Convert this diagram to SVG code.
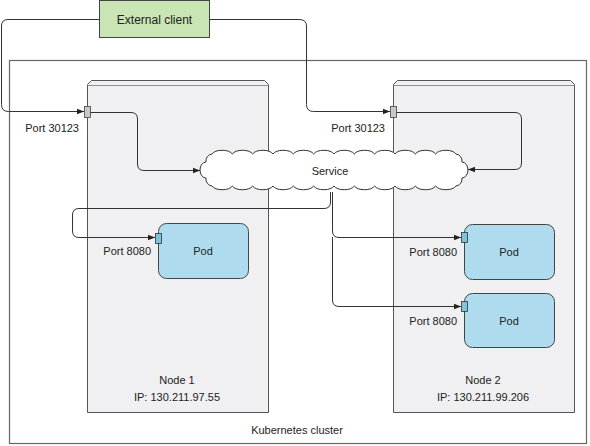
<svg xmlns="http://www.w3.org/2000/svg" width="590" height="446" viewBox="0 0 590 446">
<defs>
<marker id="ah" viewBox="0 0 10 10" refX="10" refY="5" markerWidth="7" markerHeight="7" markerUnits="userSpaceOnUse" orient="auto">
<path d="M0,1 L10,5 L0,9 Z" fill="#222"/>
</marker>
<style>
text{font-family:"Liberation Sans",Arial,sans-serif;font-size:11px;fill:#222}
.node{fill:#f0f0f2;stroke:#555;stroke-width:1}
.pod{fill:#aedcee;stroke:#444;stroke-width:1}
.pport{fill:#7cc4da;stroke:#333;stroke-width:0.8}
.nport{fill:#c8c8c8;stroke:#444;stroke-width:0.8}
.c{fill:none;stroke:#333;stroke-width:1}
.m{text-anchor:middle}
.e{text-anchor:end}
</style>
</defs>
<rect width="590" height="446" fill="#fff"/>
<g id="cluster">
<rect x="9.5" y="60.5" width="577" height="383" fill="#fff" stroke="#666" stroke-width="1.2"/>
<text class="m" x="297" y="434">Kubernetes cluster</text>
</g>
<g id="node1">
<path class="node" d="M87.5 412.5 V84.5 L91.5 80.5 H264.5 L268.5 84.5 V412.5 Z"/>
<line x1="87.5" y1="85.5" x2="268.5" y2="85.5" stroke="#777" stroke-width="0.8"/>
<text class="m" x="177" y="384">Node 1</text>
<text class="m" x="177" y="401">IP: 130.211.97.55</text>
</g>
<g id="node2">
<path class="node" d="M393.5 412.5 V84.5 L397.5 80.5 H570.5 L574.5 84.5 V412.5 Z"/>
<line x1="393.5" y1="85.5" x2="574.5" y2="85.5" stroke="#777" stroke-width="0.8"/>
<text class="m" x="483" y="384">Node 2</text>
<text class="m" x="483" y="401">IP: 130.211.99.206</text>
</g>
<g id="external-client">
<rect x="99.5" y="0.5" width="110" height="37" fill="#c9e4b5" stroke="#444" stroke-width="1"/>
<text class="m" x="154.5" y="24" style="font-size:12px">External client</text>
</g>
<g id="port1-30123">
<rect class="nport" x="84.5" y="106.5" width="6" height="11"/>
<text class="e" x="79" y="132">Port 30123</text>
</g>
<g id="port2-30123">
<rect class="nport" x="390.5" y="106.5" width="6" height="11"/>
<text class="e" x="385" y="132">Port 30123</text>
</g>
<g id="pod1">
<rect class="pod" x="158.5" y="223.5" width="90" height="55" rx="8"/>
<rect class="pport" x="155.5" y="233.5" width="6" height="10"/>
<text class="m" x="203" y="255">Pod</text>
<text class="e" x="151" y="255">Port 8080</text>
</g>
<g id="pod2">
<rect class="pod" x="464.5" y="224.5" width="90" height="55" rx="8"/>
<rect class="pport" x="461.5" y="232.5" width="6" height="10"/>
<text class="m" x="509" y="256">Pod</text>
<text class="e" x="457" y="256">Port 8080</text>
</g>
<g id="pod3">
<rect class="pod" x="464.5" y="293.5" width="90" height="54" rx="8"/>
<rect class="pport" x="461.5" y="301.5" width="6" height="10"/>
<text class="m" x="509" y="325">Pod</text>
<text class="e" x="457" y="325">Port 8080</text>
</g>
<g id="service">
<path fill="#fff" stroke="#333" stroke-width="1" d="M206 162 a7 7 0 0 1 6 -8 a11 6 0 0 1 20.33 0 a11 6 0 0 1 20.33 0 a11 6 0 0 1 20.33 0 a11 6 0 0 1 20.33 0 a11 6 0 0 1 20.33 0 a11 6 0 0 1 20.33 0 a11 6 0 0 1 20.33 0 a11 6 0 0 1 20.33 0 a11 6 0 0 1 20.33 0 a11 6 0 0 1 20.33 0 a11 6 0 0 1 20.33 0 a11 6 0 0 1 20.33 0 a7 7 0 0 1 6 8 a6 8 0 0 1 0 16 a7 7 0 0 1 -6 8 a11 6 0 0 1 -20.33 0 a11 6 0 0 1 -20.33 0 a11 6 0 0 1 -20.33 0 a11 6 0 0 1 -20.33 0 a11 6 0 0 1 -20.33 0 a11 6 0 0 1 -20.33 0 a11 6 0 0 1 -20.33 0 a11 6 0 0 1 -20.33 0 a11 6 0 0 1 -20.33 0 a11 6 0 0 1 -20.33 0 a11 6 0 0 1 -20.33 0 a11 6 0 0 1 -20.33 0 a7 7 0 0 1 -6 -8 a6 8 0 0 1 0 -16 Z"/>
<text class="m" x="330" y="175">Service</text>
</g>
<g id="connectors" class="c">
<path class="c" marker-end="url(#ah)" d="M99.5 19.5 H8 Q1.5 19.5 1.5 26 V104.5 Q1.5 111.5 8.5 111.5 H84"/>
<path class="c" marker-end="url(#ah)" d="M209.5 19.5 H299 Q306.5 19.5 306.5 26 V104.5 Q306.5 111.5 313.5 111.5 H390"/>
<path class="c" marker-end="url(#ah)" d="M90.5 112.5 H131 Q137.5 112.5 137.5 119 V164 Q137.5 170.5 144 170.5 H200"/>
<path class="c" marker-end="url(#ah)" d="M396.5 112.5 H515 Q521.5 112.5 521.5 119 V163 Q521.5 169.5 515 169.5 H468"/>
<path class="c" marker-end="url(#ah)" d="M330.5 192 V202 Q330.5 208.5 324 208.5 H79 Q72.5 208.5 72.5 215 V231 Q72.5 237.5 79 237.5 H155"/>
<path class="c" marker-end="url(#ah)" d="M332.5 192 V231 Q332.5 237.5 339 237.5 H461"/>
<path class="c" marker-end="url(#ah)" d="M332.5 237 V300 Q332.5 306.5 339 306.5 H461"/>
</g>
</svg>
